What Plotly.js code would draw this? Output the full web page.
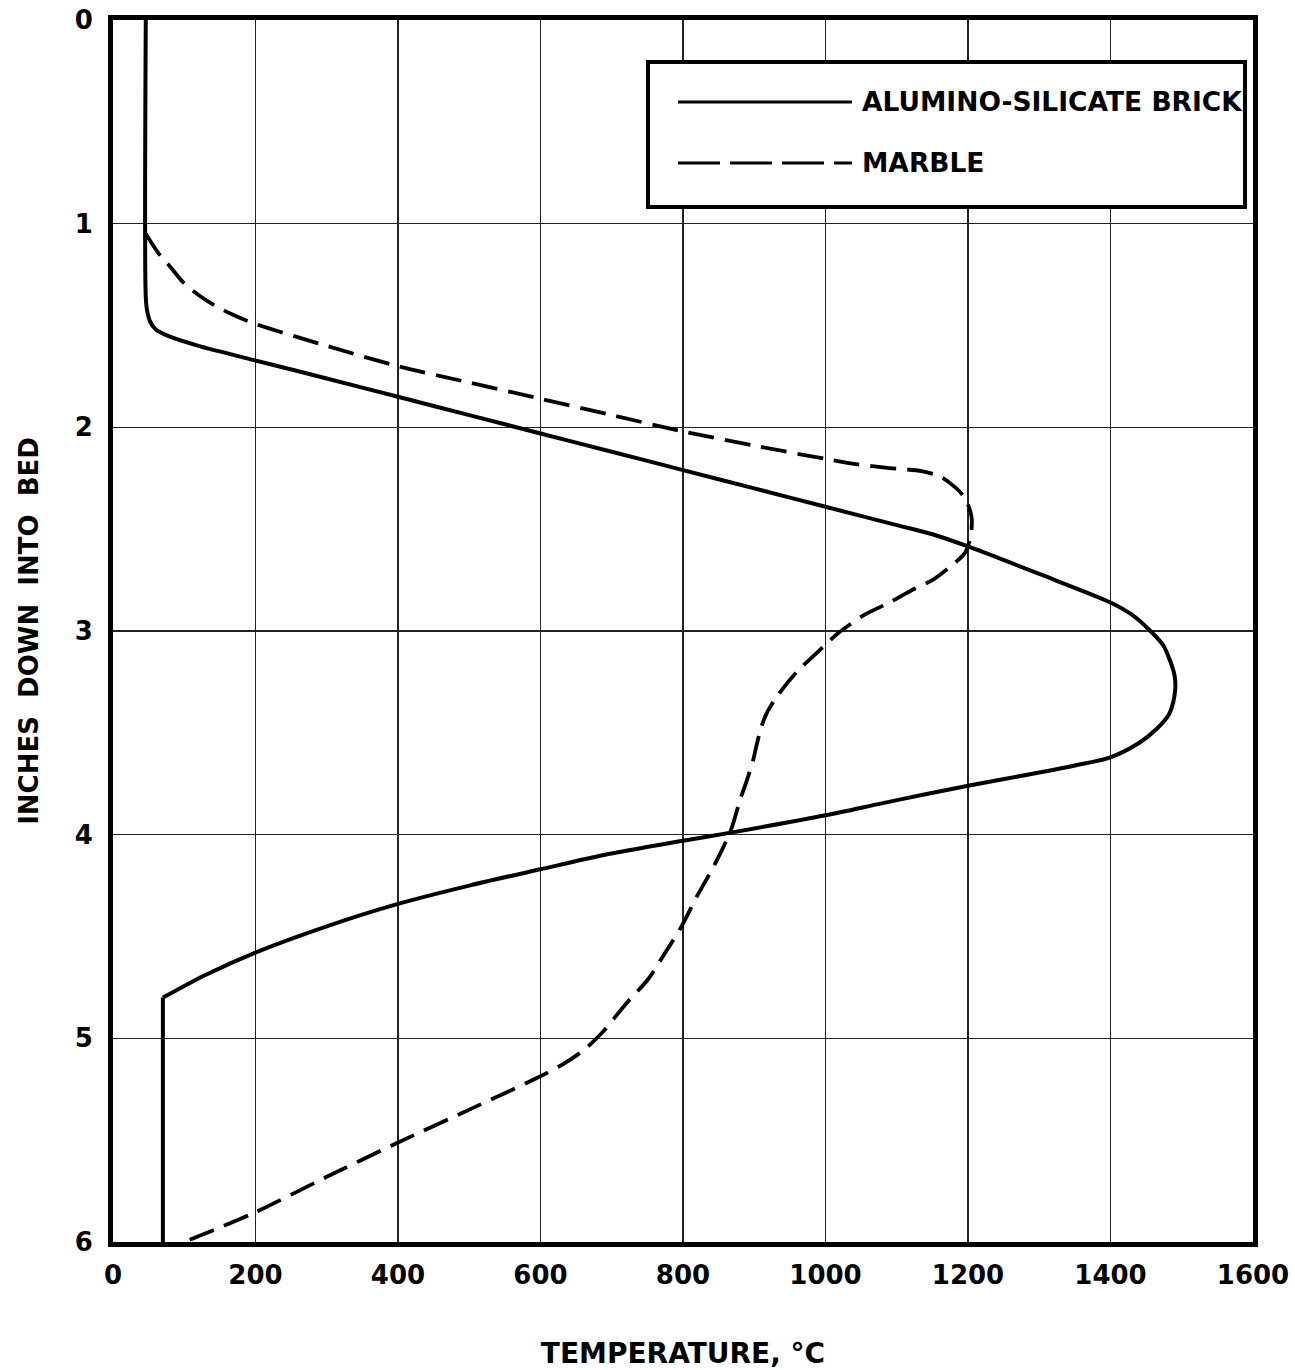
<!DOCTYPE html>
<html>
<head>
<meta charset="utf-8">
<script src="https://cdn.plot.ly/plotly-3.0.1.min.js"></script>
<style>
  html, body { margin: 0; padding: 0; background: #ffffff; }
  #chart { width: 1295px; height: 1370px; }
</style>
</head>
<body>
<div id="chart"></div>
<script>
// ---- Data ----
// Alumino-silicate brick: temperature (°C) vs depth (inches down into bed)
const brickTemperature = [46, 46, 48, 52, 60, 80, 120, 198, 300, 400, 500, 600, 700, 800, 900, 1000, 1100, 1150, 1200, 1300, 1400, 1430, 1456, 1474, 1484, 1490, 1491, 1488, 1482, 1465, 1440, 1400, 1350, 1300, 1200, 1135, 1074, 1000, 867, 800, 689, 600, 500, 400, 300, 199, 129, 70, 70];
const brickDepth = [0, 1.36, 1.43, 1.48, 1.52, 1.555, 1.60, 1.67, 1.76, 1.85, 1.94, 2.03, 2.12, 2.21, 2.30, 2.39, 2.48, 2.525, 2.585, 2.72, 2.86, 2.92, 3.0, 3.07, 3.15, 3.22, 3.28, 3.35, 3.41, 3.48, 3.55, 3.62, 3.66, 3.695, 3.76, 3.805, 3.85, 3.905, 3.99, 4.03, 4.10, 4.17, 4.25, 4.34, 4.45, 4.58, 4.69, 4.80, 6.0];

// Marble (above 1.05 in. it runs on the same vertical line as the brick curve)
const marbleTemperature = [46, 55, 67, 80, 99, 120, 142, 170, 198, 300, 400, 500, 600, 700, 800, 900, 1000, 1040, 1090, 1135, 1160, 1177, 1192, 1200, 1205, 1205, 1202, 1195, 1173, 1150, 1121, 1090, 1055, 1018, 990, 960, 932, 918, 910, 904, 898, 890, 880, 867, 844, 820, 798, 775, 751, 720, 687, 660, 630, 592, 500, 395, 300, 196, 100];
const marbleDepth = [1.05, 1.10, 1.16, 1.21, 1.29, 1.35, 1.40, 1.45, 1.49, 1.60, 1.70, 1.78, 1.86, 1.94, 2.02, 2.09, 2.155, 2.18, 2.20, 2.215, 2.24, 2.28, 2.33, 2.38, 2.44, 2.50, 2.56, 2.62, 2.69, 2.75, 2.80, 2.86, 2.92, 3.01, 3.10, 3.20, 3.32, 3.40, 3.47, 3.55, 3.64, 3.73, 3.83, 3.98, 4.15, 4.30, 4.45, 4.58, 4.71, 4.83, 4.97, 5.06, 5.13, 5.20, 5.35, 5.52, 5.68, 5.86, 6.0];

const seriesNames = ["ALUMINO-SILICATE BRICK", "MARBLE"];
const xTickValues = [0, 200, 400, 600, 800, 1000, 1200, 1400, 1600];
const xTickLabels = ["0", "200", "400", "600", "800", "1000", "1200", "1400", "1600"];
const yTickValues = [0, 1, 2, 3, 4, 5, 6];
const yTickLabels = ["0", "1", "2", "3", "4", "5", "6"];

const FONT = "DejaVu Sans, Liberation Sans, sans-serif";

// the brick curve has a sharp corner where it drops vertically to the bottom;
// draw the curved part smoothed and the final vertical drop as straight line
const nB = brickTemperature.length;
const traces = [
  {
    x: marbleTemperature, y: marbleDepth, name: seriesNames[1],
    type: "scatter", mode: "lines",
    line: { color: "#000000", width: 3.8, dash: "26px,11px", shape: "spline", smoothing: 0.8 },
    showlegend: false, hoverinfo: "skip"
  },
  {
    x: brickTemperature.slice(0, nB - 1), y: brickDepth.slice(0, nB - 1), name: seriesNames[0],
    type: "scatter", mode: "lines",
    line: { color: "#000000", width: 4, shape: "spline", smoothing: 0.8 },
    showlegend: false, hoverinfo: "skip"
  },
  {
    x: brickTemperature.slice(nB - 2), y: brickDepth.slice(nB - 2), name: seriesNames[0],
    type: "scatter", mode: "lines",
    line: { color: "#000000", width: 4, shape: "linear" },
    showlegend: false, hoverinfo: "skip"
  }
];

// drawn legend box (paper coordinates)
const lg = { x0: 0.4693, x1: 0.993, y0: 0.847, y1: 0.9656 };
const shapes = [
  { type: "rect", xref: "paper", yref: "paper", x0: lg.x0, x1: lg.x1, y0: lg.y0, y1: lg.y1,
    line: { color: "#000", width: 4 }, fillcolor: "rgba(255,255,255,1)", layer: "above" },
  { type: "line", xref: "paper", yref: "paper", x0: 0.4956, x1: 0.6482, y0: 0.9329, y1: 0.9329,
    line: { color: "#000", width: 3 }, layer: "above" },
  { type: "line", xref: "paper", yref: "paper", x0: 0.4956, x1: 0.6482, y0: 0.883, y1: 0.883,
    line: { color: "#000", width: 3, dash: "42px,10px" }, layer: "above" }
];
const annotations = [
  { xref: "paper", yref: "paper", x: 0.655, y: 0.9329, xanchor: "left", yanchor: "middle",
    text: seriesNames[0], showarrow: false,
    font: { family: FONT, size: 26.5, color: "#000", weight: "bold" } },
  { xref: "paper", yref: "paper", x: 0.655, y: 0.883, xanchor: "left", yanchor: "middle",
    text: seriesNames[1], showarrow: false,
    font: { family: FONT, size: 26.5, color: "#000", weight: "bold" } }
];

const layout = {
  width: 1295, height: 1370,
  margin: { l: 113, r: 42, t: 20, b: 128 },
  paper_bgcolor: "#ffffff", plot_bgcolor: "#ffffff",
  showlegend: false,
  xaxis: {
    range: [0, 1600], tickvals: xTickValues, ticktext: xTickLabels,
    showgrid: true, gridcolor: "#222", gridwidth: 1.2,
    showline: true, linecolor: "#000", linewidth: 5, mirror: true,
    ticks: "", ticklabelstandoff: 6, zeroline: false,
    tickfont: { family: FONT, size: 26, color: "#000", weight: "bold" },
    title: { text: "TEMPERATURE,\u00a0°C", standoff: 68,
      font: { family: FONT, size: 28, color: "#000", weight: "bold" } },
    automargin: false
  },
  yaxis: {
    range: [6, 0], tickvals: yTickValues, ticktext: yTickLabels,
    showgrid: true, gridcolor: "#222", gridwidth: 1.2,
    showline: true, linecolor: "#000", linewidth: 5, mirror: true,
    ticks: "", ticklabelstandoff: 10, zeroline: false,
    tickfont: { family: FONT, size: 26, color: "#000", weight: "bold" },
    title: { text: "INCHES\u00a0\u00a0DOWN\u00a0\u00a0INTO\u00a0\u00a0BED", standoff: 30,
      font: { family: FONT, size: 26, color: "#000", weight: "bold" } },
    automargin: false
  },
  shapes: shapes,
  annotations: annotations
};

Plotly.newPlot("chart", traces, layout, { staticPlot: true, displayModeBar: false });
</script>
</body>
</html>
